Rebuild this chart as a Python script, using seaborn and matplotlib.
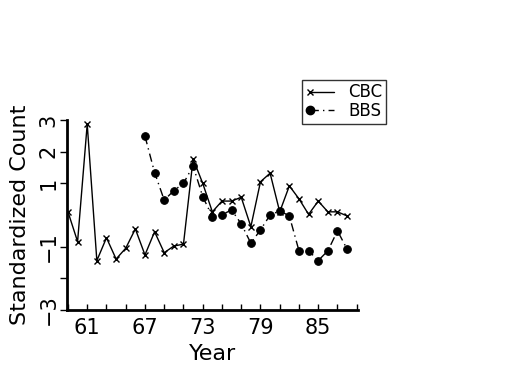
import matplotlib
matplotlib.use("Agg")
import matplotlib.pyplot as plt
from matplotlib.lines import Line2D
import numpy as np
import pandas as pd
import seaborn as sns

# ---- data ----
cbc_years = list(range(59, 89))
cbc_values = [0.10, -0.84, 2.87, -1.44, -0.72, -1.39, -1.05, -0.44, -1.26, -0.53,
              -1.19, -0.98, -0.92, 1.77, 1.00, 0.10, 0.44, 0.44, 0.56, -0.37,
              1.05, 1.32, 0.10, 0.92, 0.51, 0.02, 0.44, 0.10, 0.10, -0.03]
bbs_years = list(range(67, 89))
bbs_values = [2.49, 1.34, 0.47, 0.77, 1.00, 1.55, 0.58, -0.05, 0.01, 0.16,
              -0.28, -0.89, -0.47, 0.00, 0.13, -0.03, -1.13, -1.13, -1.44, -1.13,
              -0.50, -1.08]
x_ticks = list(range(59, 90, 2))
x_label_map = {61: "61", 67: "67", 73: "73", 79: "79", 85: "85"}
y_ticks = [3, 2, 1, -1, -2, -3]
y_tick_labels = ["3", "2", "1", "\u22121", "", "\u22123"]

sns.set_style("ticks", {"xtick.direction": "in", "ytick.direction": "out"})
plt.rcParams["font.family"] = ["DejaVu Sans"]
for k in ["text.color", "axes.labelcolor", "xtick.color", "ytick.color", "axes.edgecolor"]:
    plt.rcParams[k] = "black"

fig = plt.figure(figsize=(5.25, 3.75), dpi=100)
ax = fig.add_axes([67 / 525, 1 - 310 / 375, 290.7 / 525, 190 / 375])

cbc = pd.DataFrame({"Year": cbc_years, "Value": cbc_values})
bbs = pd.DataFrame({"Year": bbs_years, "Value": bbs_values})

dashdot = (0, (6, 3, 1, 3))
sns.lineplot(data=cbc, x="Year", y="Value", ax=ax, color="black", linewidth=1,
             marker="x", markersize=5, markeredgewidth=1, markeredgecolor="black")
sns.lineplot(data=bbs, x="Year", y="Value", ax=ax, color="black", linewidth=1,
             linestyle=dashdot, marker="o", markersize=5.5,
             markeredgecolor="black", markerfacecolor="black")

ax.set_xlim(58.9, 89.1)
ax.set_ylim(-3, 3)
ax.set_xticks(x_ticks)
ax.set_xticklabels([x_label_map.get(t, "") for t in x_ticks], fontsize=15)
ax.set_yticks(y_ticks)
ax.set_yticklabels(y_tick_labels, fontsize=15, rotation=90, va="center")
ax.tick_params(axis="x", direction="in", length=4, width=1, pad=6, color="black",
               bottom=True)
ax.tick_params(axis="y", direction="out", length=5, width=1, pad=1, color="black",
               left=True)

for s in ["top", "right"]:
    ax.spines[s].set_visible(False)
for s in ["left", "bottom"]:
    ax.spines[s].set_linewidth(2)
    ax.spines[s].set_color("black")

ax.set_xlabel("Year", fontsize=16, labelpad=4)
ax.set_ylabel("Standardized Count", fontsize=16, labelpad=6)

h1 = Line2D([0], [0], color="black", linewidth=1, marker="x", markersize=4)
h2 = Line2D([0], [0], color="black", linewidth=1, linestyle=dashdot,
            marker="o", markersize=6)
leg = ax.legend([h1, h2], ["CBC", "BBS"], loc="upper left",
                bbox_to_anchor=(0.808, 1.21), borderaxespad=0, fontsize=12,
                frameon=True, fancybox=False, numpoints=2, handlelength=2.0,
                handletextpad=0.6, borderpad=0.2, labelspacing=0.05)
for h in leg.legend_handles:
    h.set_markevery([0])
leg.get_frame().set_edgecolor("black")
leg.get_frame().set_linewidth(1)

fig.savefig("out.png", dpi=100)
